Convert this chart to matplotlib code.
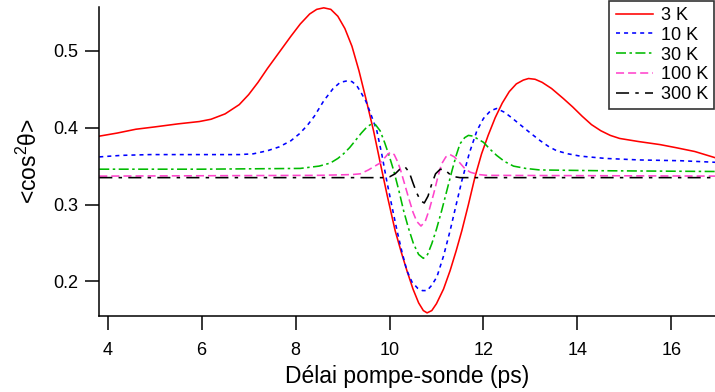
import matplotlib
matplotlib.use("Agg")
import matplotlib.pyplot as plt

plt.rcParams['font.family'] = ['Liberation Sans', 'DejaVu Sans']
plt.rcParams['mathtext.fontset'] = 'custom'
plt.rcParams['mathtext.rm'] = 'Liberation Sans'
plt.rcParams['mathtext.it'] = 'Liberation Sans'
plt.rcParams['lines.scale_dashes'] = False

# 3 K
x_3k = [3.82, 4.2, 4.6, 5.0, 5.5, 5.95, 6.2, 6.5, 6.8, 7.0, 7.2, 7.4, 7.65, 7.9, 8.1,
        8.3, 8.45, 8.6, 8.75, 8.9, 9.05, 9.2, 9.35, 9.5, 9.66, 9.8, 9.95, 10.12, 10.25,
        10.37, 10.5, 10.62, 10.72, 10.8, 10.9, 11.0, 11.15, 11.29, 11.42, 11.54, 11.68,
        11.82, 11.96, 12.1, 12.25, 12.4, 12.55, 12.7, 12.85, 12.96, 13.1, 13.25, 13.45,
        13.7, 13.9, 14.1, 14.3, 14.5, 14.7, 14.9, 15.3, 15.76, 16.1, 16.5, 16.93]
y_3k = [0.389, 0.393, 0.398, 0.401, 0.405, 0.408, 0.411, 0.418, 0.430, 0.443, 0.459,
        0.477, 0.498, 0.519, 0.535, 0.548, 0.554, 0.556, 0.554, 0.545, 0.529, 0.506,
        0.474, 0.437, 0.396, 0.355, 0.312, 0.266, 0.238, 0.214, 0.190, 0.172, 0.162,
        0.159, 0.162, 0.171, 0.190, 0.214, 0.240, 0.266, 0.300, 0.336, 0.366, 0.390,
        0.413, 0.432, 0.447, 0.457, 0.462, 0.464, 0.463, 0.459, 0.451, 0.438, 0.427,
        0.415, 0.404, 0.396, 0.390, 0.386, 0.382, 0.378, 0.374, 0.369, 0.361]

# 10 K
x_10k = [3.82, 4.3, 4.9, 6.8, 7.1, 7.4, 7.65, 7.9, 8.08, 8.25, 8.4, 8.6, 8.8, 8.95, 9.1,
         9.2, 9.3, 9.4, 9.5, 9.6, 9.73, 9.84, 9.94, 10.05, 10.16, 10.27, 10.37, 10.48,
         10.6, 10.7, 10.8, 10.9, 11.01, 11.15, 11.29, 11.42, 11.54, 11.7, 11.86, 12.0,
         12.15, 12.28, 12.45, 12.6, 12.8, 13.0, 13.21, 13.4, 13.56, 13.8, 14.06, 14.6,
         15.33, 16.2, 16.93]
y_10k = [0.362, 0.364, 0.365, 0.365, 0.366, 0.370, 0.375, 0.383, 0.392, 0.403, 0.415,
         0.435, 0.451, 0.459, 0.461, 0.460, 0.455, 0.445, 0.434, 0.418, 0.396, 0.364,
         0.331, 0.298, 0.266, 0.237, 0.214, 0.199, 0.191, 0.188, 0.188, 0.195, 0.206,
         0.233, 0.266, 0.300, 0.331, 0.367, 0.396, 0.412, 0.422, 0.425, 0.420, 0.413,
         0.403, 0.393, 0.383, 0.375, 0.370, 0.366, 0.363, 0.360, 0.358, 0.357, 0.355]

# 30 K
x_30k = [3.82, 6.0, 8.1, 8.5, 8.74, 8.9, 9.02, 9.15, 9.27, 9.4, 9.52, 9.62, 9.7, 9.8,
         9.9, 10.0, 10.09, 10.2, 10.3, 10.4, 10.51, 10.62, 10.72, 10.81, 10.9, 11.0,
         11.11, 11.22, 11.33, 11.42, 11.5, 11.6, 11.68, 11.78, 11.86, 12.0, 12.14, 12.28,
         12.45, 12.64, 12.9, 13.2, 14.5, 16.93]
y_30k = [0.346, 0.346, 0.347, 0.350, 0.354, 0.360, 0.366, 0.374, 0.383, 0.393, 0.401,
         0.405, 0.404, 0.396, 0.380, 0.362, 0.344, 0.318, 0.292, 0.270, 0.249, 0.235,
         0.230, 0.235, 0.249, 0.268, 0.292, 0.318, 0.344, 0.364, 0.379, 0.387, 0.390,
         0.389, 0.386, 0.381, 0.372, 0.364, 0.356, 0.350, 0.347, 0.345, 0.344, 0.343]

# 100 K
x_100k = [3.82, 8.5, 9.2, 9.38, 9.55, 9.66, 9.8, 9.9, 9.97, 10.03, 10.1, 10.17, 10.23,
          10.32, 10.4, 10.5, 10.58, 10.67, 10.76, 10.85, 10.94, 11.03, 11.11, 11.2,
          11.29, 11.38, 11.5, 11.6, 11.72, 11.9, 12.07, 16.93]
y_100k = [0.337, 0.338, 0.339, 0.340, 0.345, 0.349, 0.354, 0.361, 0.366, 0.368, 0.365,
          0.356, 0.346, 0.327, 0.310, 0.290, 0.278, 0.272, 0.278, 0.294, 0.314, 0.336,
          0.353, 0.362, 0.365, 0.362, 0.354, 0.347, 0.342, 0.339, 0.338, 0.337]

# 300 K
x_300k = [3.82, 9.9, 10.0, 10.12, 10.22, 10.33, 10.42, 10.5, 10.58, 10.66, 10.74, 10.82,
          10.9, 10.98, 11.08, 11.18, 11.29, 11.4, 11.5, 16.93]
y_300k = [0.335, 0.335, 0.336, 0.340, 0.346, 0.349, 0.342, 0.328, 0.315, 0.305, 0.302,
          0.311, 0.327, 0.340, 0.346, 0.345, 0.339, 0.336, 0.335, 0.335]

labels = ['3 K', '10 K', '30 K', '100 K', '300 K']

fig = plt.figure(figsize=(7.15, 3.92), dpi=100)
ax = fig.add_axes([0.1385, 0.194, 0.8615, 0.788])

lw = 1.15
ax.plot(x_3k, y_3k, color='#ff0000', lw=lw, label=labels[0])
ax.plot(x_10k, y_10k, color='#0000ff', lw=lw, dashes=(2.9, 2.9), label=labels[1])
ax.plot(x_30k, y_30k, color='#00bb00', lw=lw, dashes=(7.2, 2.5, 1.8, 2.5), label=labels[2])
ax.plot(x_100k, y_100k, color='#ff44cc', lw=lw, dashes=(5.8, 2.9), label=labels[3])
ax.plot(x_300k, y_300k, color='black', lw=lw, dashes=(9.4, 4.5, 2.5, 4.5), label=labels[4])

ax.set_xlim(3.815, 16.93)
ax.set_ylim(0.155, 0.557)
ax.set_xticks([4, 6, 8, 10, 12, 14, 16])
ax.set_yticks([0.2, 0.3, 0.4, 0.5])

for s in ['top', 'right']:
    ax.spines[s].set_visible(False)
for s in ['left', 'bottom']:
    ax.spines[s].set_linewidth(1.1)
ax.tick_params(direction='out', length=10, width=1.1, labelsize=13)
ax.tick_params(axis='x', pad=9)
ax.tick_params(axis='y', pad=5)

ax.set_xlabel('Délai pompe-sonde (ps)', fontsize=16.5, labelpad=4)
ax.set_ylabel(r'<cos$^2\theta$>', fontsize=16.5, labelpad=8)

leg = ax.legend(loc='upper right', bbox_to_anchor=(0.999, 0.998), bbox_transform=fig.transFigure,
                fontsize=13, frameon=True, fancybox=False, borderaxespad=0,
                handlelength=2.05, handletextpad=0.45, labelspacing=0.15, borderpad=0.35)
leg.get_frame().set_edgecolor('black')
leg.get_frame().set_linewidth(1.2)

fig.savefig('out.png', dpi=100)
